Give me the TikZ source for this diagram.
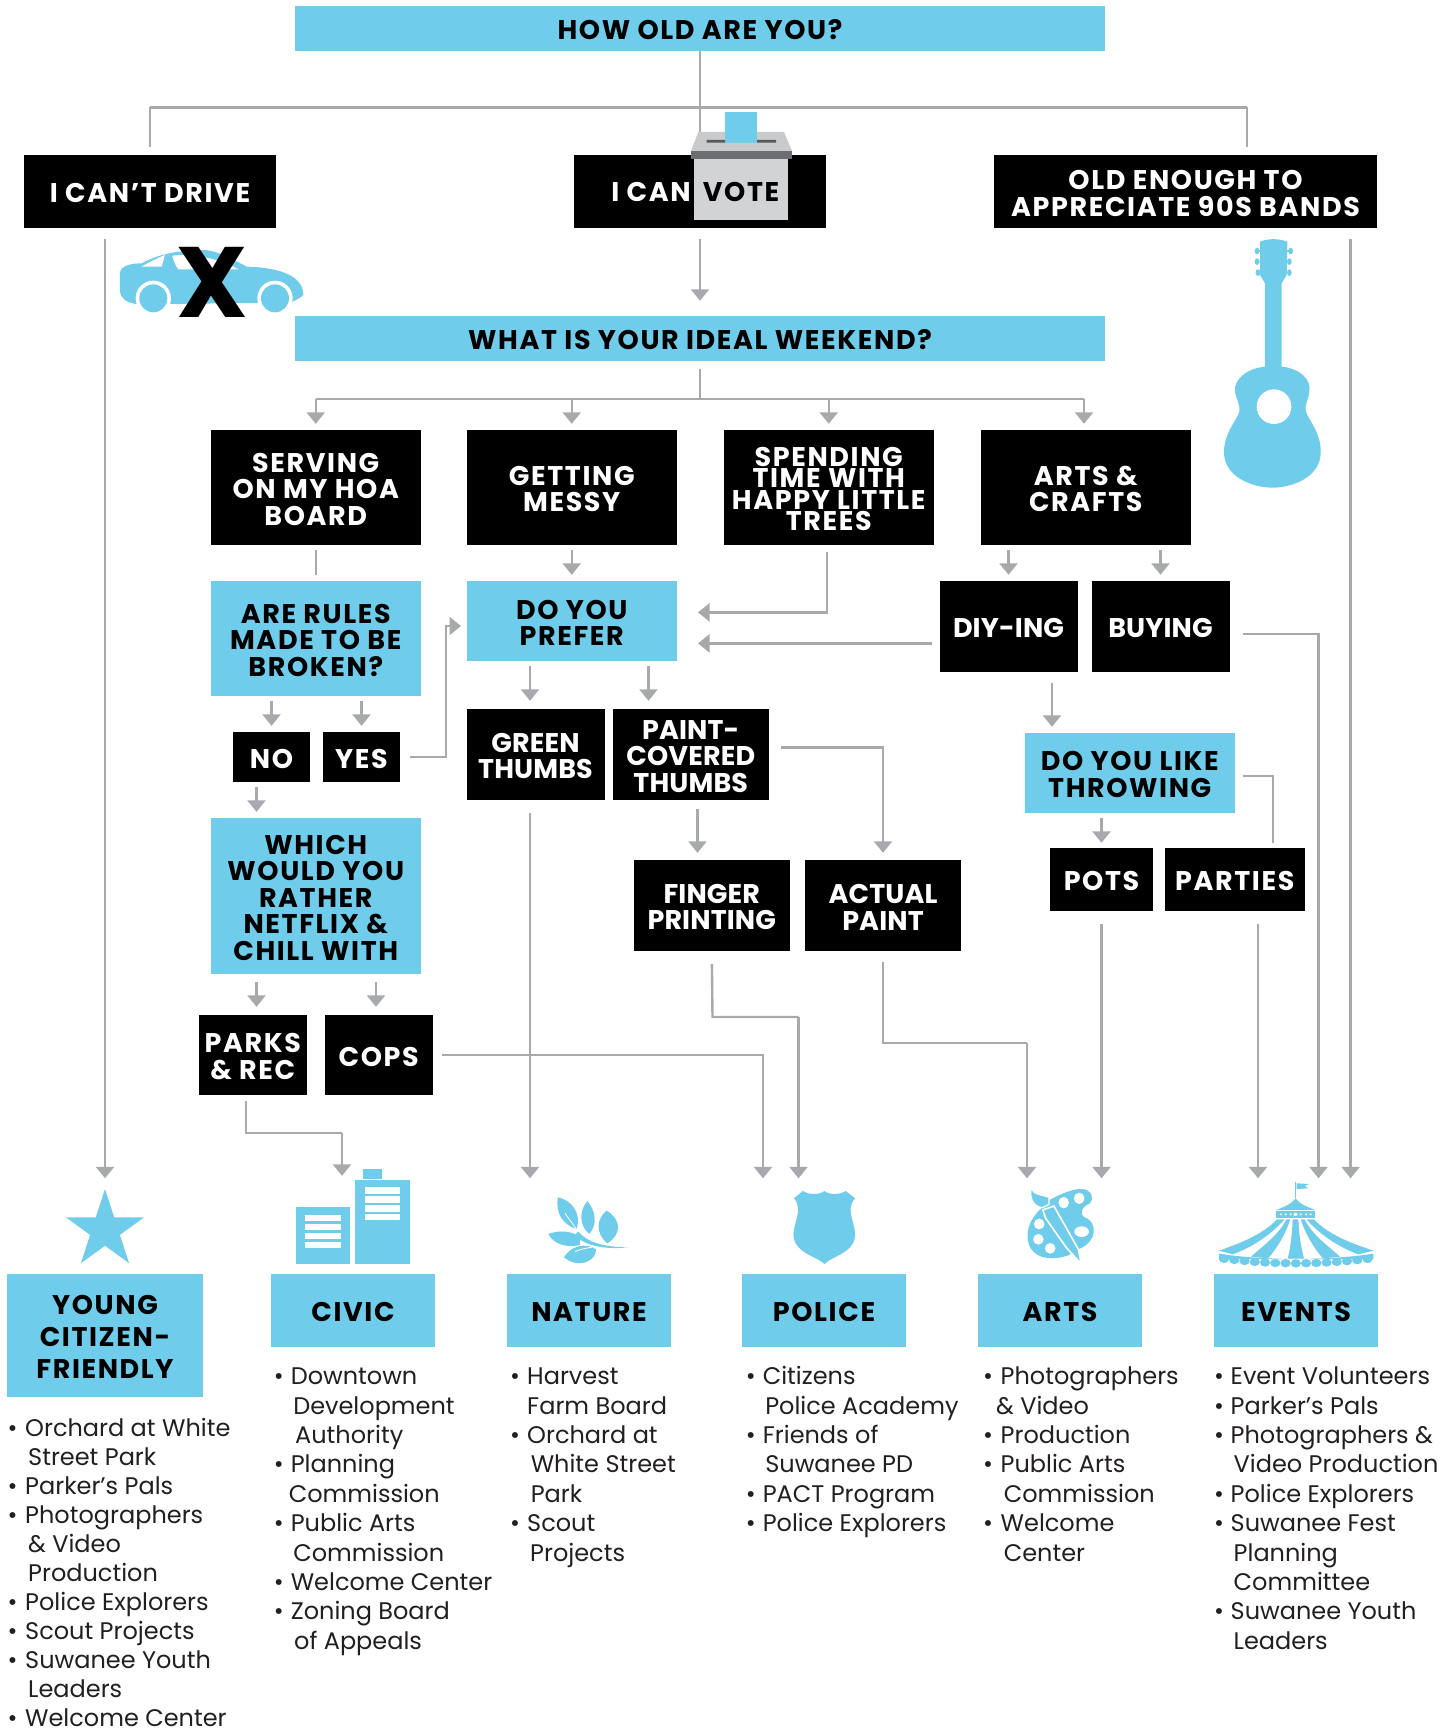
\documentclass[tikz,border=0pt]{standalone}
\usepackage{fontspec}
\setmainfont{Poppins}
\usetikzlibrary{arrows.meta,calc}
\definecolor{sky}{HTML}{6FCDEB}
\definecolor{wire}{HTML}{A7A9AC}
\definecolor{ink}{HTML}{231F20}
\definecolor{boxtop}{HTML}{C9CACC}
\definecolor{boxslot}{HTML}{58595B}
\definecolor{boxband}{HTML}{6D6E71}
\definecolor{boxbody}{HTML}{D1D3D4}
\newcommand{\hdfs}[1][26.5]{\bfseries\fontsize{27}{#1}\selectfont\addfontfeature{LetterSpace=6}}
\newcommand{\hdtight}{\bfseries\fontsize{27}{26.5}\selectfont\addfontfeature{LetterSpace=0.5}}
\newcommand{\bl}[1][17]{\makebox[#1pt][l]{•}}
\newcommand{\ct}[1]{\hspace*{#1pt}}
\newcommand{\bx}[7]{%
  \pgfmathsetmacro\bxw{#5-#3}\pgfmathsetmacro\bxh{#6-#4}%
  \pgfmathsetmacro\bxx{(#5+#3)/2}\pgfmathsetmacro\bxy{(#6+#4)/2}%
  \node[#1,minimum width=\bxw pt,minimum height=\bxh pt] (#2) at (\bxx,\bxy) {\rule{0pt}{22.5pt}#7};}
\tikzset{
  blk/.style={rectangle,fill=black,text=white,inner sep=0pt,align=center,font=\hdfs},
  blu/.style={rectangle,fill=sky,text=black,inner sep=0pt,align=center,font=\hdfs},
  conn/.style={draw=wire,line width=2.4pt},
  arr/.style={conn,-{Triangle[width=18pt,length=11.5pt]}},
  listing/.style={anchor=north west,inner sep=0pt,align=left,text=ink,font=\fontsize{24}{29.35}\selectfont},
  icon/.style={fill=sky,draw=none},
  hole/.style={fill=white,draw=none}
}
\begin{document}
\begin{tikzpicture}[x=1pt,y=-1pt]
\fill[white] (0,0) rectangle (1454,1731);
\useasboundingbox (0,0) rectangle (1454,1731);
% top
\bx{blu}{how}{295}{6}{1105}{51}{HOW OLD ARE YOU?}
\bx{blk}{drive}{24}{155}{276}{228}{I CAN’T DRIVE}
\bx{blk}{vote}{574}{155}{826}{228}{}
\bx{blk,font={\hdfs[27]}}{old}{994}{155}{1377}{228}{OLD ENOUGH TO\\APPRECIATE 90S BANDS}
\bx{blu}{what}{295}{316}{1105}{361}{WHAT IS YOUR IDEAL WEEKEND?}
% weekend
\bx{blk}{serving}{210.5}{430}{421}{545}{SERVING\\ON MY HOA\\BOARD}
\bx{blk}{messy}{466.5}{430}{677}{545}{GETTING\\MESSY}
\bx{blk,font={\hdfs[21.4]}}{trees}{723.5}{430}{934}{545}{SPENDING\\TIME WITH\\HAPPY LITTLE\\TREES}
\bx{blk}{crafts}{980.5}{430}{1191}{545}{ARTS \&\\CRAFTS}
\bx{blu}{rules}{210.5}{581}{421}{696}{ARE RULES\\MADE TO BE\\BROKEN?}
\bx{blu}{prefer}{466.5}{581}{677}{661}{DO YOU\\PREFER}
\bx{blk,font=\hdtight}{diy}{939.5}{581}{1077.5}{672}{DIY-ING}
\bx{blk,font=\hdtight}{buying}{1091.5}{581}{1229.5}{672}{BUYING}
\bx{blk}{no}{233}{732}{310}{782}{NO}
\bx{blk}{yes}{323}{732}{400}{782}{YES}
\bx{blk,font=\hdtight}{green}{466.5}{709}{604.5}{800}{GREEN\\THUMBS}
\bx{blk,font=\hdtight}{paint}{612.5}{709}{769}{800}{PAINT-\\COVERED\\THUMBS}
\bx{blu}{throw}{1025}{733}{1234.5}{813}{DO YOU LIKE\\THROWING}
\bx{blu}{which}{210.5}{818}{421}{974}{WHICH\\WOULD YOU\\RATHER\\NETFLIX \&\\CHILL WITH}
\bx{blk}{pots}{1050}{848}{1153}{911}{POTS}
\bx{blk}{parties}{1164.5}{848}{1305}{911}{PARTIES}
\bx{blk,font=\hdtight}{finger}{633.5}{860}{790}{951}{FINGER\\PRINTING}
\bx{blk,font=\hdtight}{actual}{805}{860}{961}{951}{ACTUAL\\PAINT}
\bx{blk}{parks}{198.5}{1015}{307}{1095}{PARKS\\\& REC}
\bx{blk}{cops}{324.5}{1015}{433}{1095}{COPS}
% categories
\bx{blu,font={\hdfs[32]}}{young}{7}{1274}{203}{1397}{YOUNG\\CITIZEN-\\FRIENDLY}
\bx{blu}{civic}{271}{1274}{435}{1347}{CIVIC}
\bx{blu}{nature}{507}{1274}{671}{1347}{NATURE}
\bx{blu}{police}{742}{1274}{906}{1347}{POLICE}
\bx{blu}{arts}{978}{1274}{1142}{1347}{ARTS}
\bx{blu}{events}{1214}{1274}{1378}{1347}{EVENTS}
% free connector ends
\coordinate (h1) at (700,107.5);
\coordinate (bR) at (1247,107.5);
\coordinate (ballottop) at (700,135);
\coordinate (h2) at (700,399);
\coordinate (crx) at (1084,399);
\coordinate (oldx) at (1350.6,228);
\coordinate (p1) at (698,612.4);
\coordinate (p2) at (698,643.4);
\coordinate (b1) at (1318.5,634);
\coordinate (y1) at (446,757);
\coordinate (y2) at (461,626);
\coordinate (pk0) at (246,1095);
\coordinate (pk1) at (246,1133);
\coordinate (pk2) at (342,1133);
\coordinate (cp1) at (763,1055);
\coordinate (pt1) at (883,747.5);
\coordinate (fg1) at (712.5,1017);
\coordinate (fg2) at (798.5,1017);
\coordinate (ac1) at (883,1043);
\coordinate (ac2) at (1027,1043);
\coordinate (th1) at (1273,776);
\coordinate (grx) at (530,800);
\coordinate (prx) at (648.5,661);
\coordinate (dyx) at (1052,672);
\coordinate (ptx) at (1101.5,911);
\coordinate (ppx) at (1258,911);
\coordinate (nox) at (256.5,782);
\coordinate (whx) at (256.5,974);
\coordinate (why) at (376,974);
\coordinate (pax) at (697.5,800);
% connectors
\draw[conn] (how.south) -- (ballottop);
\draw[conn] (drive.north |- h1) -- (bR);
\draw[conn,shorten >=8pt] (drive.north |- h1) -- (drive.north);
\draw[conn,shorten >=8pt] (bR) -- (bR |- old.north);
\draw[arr,shorten <=11pt,shorten >=15pt] (vote.south) -- (what.north);
\draw[arr,shorten <=11pt,shorten >=95.5pt] (drive.south -| young.north) -- (young.north);
\draw[arr,shorten <=11pt,shorten >=95.5pt] (oldx) -- (events.north -| oldx);
\draw[conn,shorten <=8pt] (what.south) -- (h2);
\draw[conn] (serving.north |- h2) -- (crx);
\foreach \n in {serving,messy,trees}
  \draw[arr,shorten >=6pt] (\n.north |- h2) -- (\n.north);
\draw[arr,shorten >=6pt] (crx) -- (crx |- crafts.north);
\draw[conn,shorten <=5pt,shorten >=6pt] (serving.south) -- (rules.north);
\draw[arr,shorten <=5pt,shorten >=6pt] (messy.south) -- (prefer.north);
\draw[arr,shorten <=7pt] ([xshift=-2pt]trees.south) |- (p1);
\draw[arr,shorten <=7pt] (diy.west |- p2) -- (p2);
\draw[arr,shorten <=5pt,shorten >=6pt] (crafts.south -| diy.north) -- (diy.north);
\draw[arr,shorten <=5pt,shorten >=6pt] (crafts.south -| buying.north) -- (buying.north);
\draw[arr,shorten <=13.5pt,shorten >=95.5pt] (buying.east |- b1) -- (b1) -- (events.north -| b1);
\draw[arr,shorten <=5pt,shorten >=6pt] (rules.south -| no.north) -- (no.north);
\draw[arr,shorten <=5pt,shorten >=6pt] (rules.south -| yes.north) -- (yes.north);
\draw[arr,shorten <=10pt] (yes.east) -- (y1) -- (y1 |- y2) -- (y2);
\draw[arr,shorten <=5pt,shorten >=6pt] (nox) -- (nox |- which.north);
\draw[arr,shorten <=8pt,shorten >=8pt] (whx) -- (whx |- parks.north);
\draw[arr,shorten <=8pt,shorten >=8pt] (why) -- (why |- cops.north);
\draw[conn,shorten <=6pt] (pk0) -- (pk1) -- (pk2);
\draw[arr,shorten >=98pt] (pk2) -- (pk2 |- civic.north);
\draw[arr,shorten <=9pt,shorten >=95.5pt] (cops.east |- cp1) -- (cp1) -- (cp1 |- police.north);
\draw[arr,shorten <=5pt,shorten >=8pt] (grx |- prefer.south) -- (grx |- green.north);
\draw[arr,shorten <=5pt,shorten >=8pt] (prx) -- (prx |- paint.north);
\draw[arr,shorten <=13pt,shorten >=95.5pt] (grx) -- (grx |- nature.north);
\draw[arr,shorten <=12pt,shorten >=7pt] (paint.east |- pt1) -- (pt1) -- (pt1 |- actual.north);
\draw[arr,shorten <=9pt,shorten >=7pt] (pax) -- (pax |- finger.north);
\draw[conn,shorten <=13pt] (finger.south) -- (fg1) -- (fg2);
\draw[arr,shorten >=95.5pt] (fg2) -- (fg2 |- police.north);
\draw[conn,shorten <=11pt] (actual.south) -- (ac1) -- (ac2);
\draw[arr,shorten >=95.5pt] (ac2) -- (ac2 |- arts.north);
\draw[arr,shorten <=11pt,shorten >=6pt] (dyx) -- (dyx |- throw.north);
\draw[conn,shorten <=8pt,shorten >=5pt] (throw.east |- th1) -- (th1) -- (th1 |- parties.north);
\draw[arr,shorten <=5pt,shorten >=5pt] (throw.south -| pots.north) -- (pots.north);
\draw[arr,shorten <=13pt,shorten >=95.5pt] (ptx) -- (ptx |- arts.north);
\draw[arr,shorten <=13pt,shorten >=95.5pt] (ppx) -- (ppx |- events.north);
% voting box
\fill[sky] (725,112) rectangle (757,143);
\fill[boxtop] (698.3,132) -- (725,132) -- (725,143) -- (757,143) -- (757,132) -- (784,132) -- (792,151) -- (691,151) -- cycle;
\fill[boxslot] (706.7,140) rectangle (725,142.7) (757,140) rectangle (776,142.7);
\fill[boxband] (691,151) rectangle (792,159);
\fill[boxbody] (694,159) rectangle (788,220);
\node[font=\hdfs,text=white,inner sep=0pt] (ican) at (651,192) {I CAN};
\node[font=\hdfs,text=black,inner sep=0pt] (votew) at (741,192) {VOTE};
% car
\begin{scope}[shift={(100,230)},x=.3333pt,y=-.3333pt]
\fill[icon] (60,130) .. controls (60,105) and (100,100) .. (125,100) .. controls (175,72) and (240,60) .. (310,60) .. controls (360,62) and (410,95) .. (440,110) .. controls (520,112) and (610,130) .. (610,195) .. controls (600,205) and (585,212) .. (570,218) -- (190,222) -- (108,222) .. controls (80,218) and (60,205) .. (60,180) -- cycle;
\fill[hole] (125,110) .. controls (145,98) and (170,85) .. (195,75) -- (185,110) -- cycle;
\fill[hole] (217,77) .. controls (270,70) and (360,85) .. (415,118) -- (235,118) .. controls (225,105) and (220,90) .. (217,77) -- cycle;
\fill[hole] (160,205) circle (53) (525,205) circle (53);
\fill[icon] (160,205) circle (42) (525,205) circle (42);
\end{scope}
\node[font=\bfseries\fontsize{100}{100}\selectfont,text=black,inner sep=0pt] (xmark) at (212,282) {X};
% guitar
\begin{scope}[shift={(1200,220)},x=.3333pt,y=-.3333pt]
\fill[icon] (180,65) .. controls (205,55) and (235,55) .. (262,65) -- (260,165) -- (245,190) -- (245,440) .. controls (300,445) and (335,480) .. (328,515) .. controls (325,540) and (312,560) .. (318,575) .. controls (325,600) and (365,640) .. (362,700) .. controls (360,770) and (280,803) .. (217,803) .. controls (155,803) and (75,770) .. (72,700) .. controls (70,640) and (112,600) .. (118,575) .. controls (122,560) and (110,540) .. (105,515) .. controls (100,480) and (140,445) .. (195,440) -- (195,190) -- (180,165) -- cycle;
\fill[hole] (222,560) circle (52);
\foreach \a/\b in {171/93,171/125,174/158,272/93,268/125,268/158}
  \fill[icon] (\a,\b) ellipse [x radius=7,y radius=10];
\draw[sky,line width=1.3pt] (171,93) -- (272,93) (171,125) -- (268,125) (174,158) -- (268,158);
\end{scope}
% star
\fill[icon] (105,1189) -- (114.2,1217.3) -- (144,1217.3) -- (119.9,1234.9) -- (129.1,1263.2) -- (105,1245.7) -- (80.9,1263.2) -- (90.1,1234.9) -- (66,1217.3) -- (95.8,1217.3) -- cycle;
% buildings and leaves
\begin{scope}[shift={(270,1160)},x=.3333pt,y=-.3333pt]
\fill[icon] (78,142) rectangle (240,313);
\fill[icon] (256,60) rectangle (419,313);
\fill[icon] (279,27) rectangle (336,57);
\foreach \t in {165,191,218,245} \fill[hole] (105,\t) rectangle (213,\t+19);
\foreach \t in {82,109,136,162} \fill[hole] (284,\t) rectangle (391,\t+19);
\fill[icon] (864,112) .. controls (905,120) and (935,160) .. (920,207) .. controls (880,195) and (855,160) .. (864,112) -- cycle;
\fill[icon] (952,123) .. controls (975,150) and (985,190) .. (958,222) .. controls (930,200) and (925,155) .. (952,123) -- cycle;
\fill[icon] (1010,152) .. controls (1050,175) and (1060,220) .. (1012,250) .. controls (975,220) and (980,175) .. (1010,152) -- cycle;
\fill[icon] (835,222) .. controls (870,208) and (915,215) .. (930,232) -- (930,255) .. controls (885,265) and (850,250) .. (835,222) -- cycle;
\fill[icon] (882,292) .. controls (900,260) and (945,245) .. (978,268) .. controls (980,300) and (930,330) .. (882,292) -- cycle;
\fill[icon] (925,215) .. controls (950,245) and (1000,262) .. (1075,262) .. controls (1000,270) and (940,255) .. (915,225) -- cycle;
\draw[white,line width=.8pt] (885,160) -- (925,215) (915,275) .. controls (930,268) and (945,265) .. (965,262);
\end{scope}
% shield, palette, tent
\begin{scope}[shift={(760,1160)},x=.40816pt,y=-.3333pt]
\fill[icon] (105,93) .. controls (120,105) and (145,105) .. (158,93) .. controls (170,105) and (195,105) .. (210,93) -- (233,115) .. controls (205,150) and (240,200) .. (232,235) .. controls (225,280) and (175,290) .. (158,312) .. controls (140,290) and (90,280) .. (83,235) .. controls (75,200) and (110,150) .. (83,115) -- cycle;
% palette
\fill[icon] (712,118) .. controls (740,100) and (770,85) .. (790,87) .. controls (812,90) and (820,115) .. (808,130) .. controls (790,140) and (780,160) .. (795,172) .. controls (815,180) and (822,205) .. (815,230) .. controls (808,250) and (795,260) .. (780,268) -- (757,285) .. controls (720,302) and (680,298) .. (663,265) .. controls (645,225) and (660,175) .. (690,145) -- cycle;
\fill[hole] (744,128) ellipse [x radius=13,y radius=17];
\fill[hole] (782,115) ellipse [x radius=13,y radius=17];
\fill[hole] (684,192) ellipse [x radius=13,y radius=16];
\fill[hole] (682,238) ellipse [x radius=13,y radius=16];
\fill[hole] (711,265) ellipse [x radius=13,y radius=16];
\fill[hole] (788,215) ellipse [x radius=18,y radius=16];
\draw[white,line width=1.6pt,fill=sky] (693,150) -- (720,138) -- (780,268) -- (787,312) -- (750,262) -- (700,175) -- cycle;
\draw[white,line width=1.2pt,fill=sky] (664,85) .. controls (670,105) and (695,105) .. (708,112) -- (708,133) -- (692,143) .. controls (670,140) and (660,115) .. (664,85) -- cycle;
% tent
\draw[sky,line width=1.3pt] (1312,65) -- (1312,115);
\fill[icon] (1315,70) -- (1345,72) -- (1335,78) -- (1343,85) -- (1315,87) -- cycle;
\fill[icon] (1312,115) .. controls (1300,135) and (1280,142) .. (1265,150) -- (1360,150) .. controls (1345,142) and (1325,135) .. (1312,115) -- cycle;
\fill[icon] (1265,152) rectangle (1360,175);
\foreach \d in {1276,1288,1300,1325,1338,1349} \fill[hole] (\d,163) circle (3);
\fill[hole] (1312,163) circle (5);
\fill[icon] (1267,178) .. controls (1230,225) and (1175,250) .. (1125,272) -- (1158,283) .. controls (1210,260) and (1255,220) .. (1285,178) -- cycle;
\fill[icon] (1290,178) .. controls (1270,225) and (1235,255) .. (1203,290) -- (1245,295) .. controls (1270,260) and (1290,215) .. (1299,178) -- cycle;
\fill[icon] (1305,178) -- (1319,178) .. controls (1320,220) and (1325,260) .. (1333,296) -- (1293,296) .. controls (1300,260) and (1304,220) .. (1305,178) -- cycle;
\fill[icon] (1334,178) .. controls (1354,225) and (1389,255) .. (1421,290) -- (1379,295) .. controls (1354,260) and (1334,215) .. (1325,178) -- cycle;
\fill[icon] (1357,178) .. controls (1394,225) and (1449,250) .. (1503,272) -- (1466,283) .. controls (1414,260) and (1369,220) .. (1339,178) -- cycle;
\fill[icon] (1125,281) .. controls (1230,302) and (1395,302) .. (1503,281) -- (1503,297) -- (1125,297) -- cycle;
\foreach \i in {0,...,14} {
  \pgfmathsetmacro\cx{1137+\i*25.1}
  \pgfmathsetmacro\cy{296+14*(1-((\cx-1314)/180)^2)}
  \fill[icon] (\cx,\cy) circle (12.5);
}
\end{scope}
% lists
\node[listing,font=\fontsize{24}{29}\selectfont] (ly) at (7.5,1416) {\rule{0pt}{20pt}\bl[17.5]Orchard at White\\\ct{20.5}Street Park\\\bl[17.5]Parker’s Pals\\\bl[17.5]Photographers\\\ct{20.5}\& Video\\\ct{20.5}Production\\\bl[17.5]Police Explorers\\\bl[17.5]Scout Projects\\\bl[17.5]Suwanee Youth\\\ct{20.5}Leaders\\\bl[17.5]Welcome Center};
\node[listing] (lc) at (273.6,1364.7) {\rule{0pt}{20pt}\bl Downtown\\\ct{19.5}Development\\\ct{21.4}Authority\\\bl Planning\\\ct{15}Commission\\\bl Public Arts\\\ct{19.5}Commission\\\bl Welcome Center\\\bl Zoning Board\\\ct{20.4}of Appeals};
\node[listing] (ln) at (510,1364.7) {\rule{0pt}{20pt}\bl Harvest\\\ct{17}Farm Board\\\bl Orchard at\\\ct{20.6}White Street\\\ct{20.6}Park\\\bl Scout\\\ct{20}Projects};
\node[listing] (lp) at (745.6,1364.7) {\rule{0pt}{20pt}\bl Citizens\\\ct{19.5}Police Academy\\\bl Friends of\\\ct{19.5}Suwanee PD\\\bl PACT Program\\\bl Police Explorers};
\node[listing] (la) at (983,1364.7) {\rule{0pt}{20pt}\bl[17.5]Photographers\\\ct{13}\& Video\\\bl[17.5]Production\\\bl[17.5]Public Arts\\\ct{20.6}Commission\\\bl[17.5]Welcome\\\ct{20.6}Center};
\node[listing] (le) at (1214,1364.7) {\rule{0pt}{20pt}\bl[16.5]Event Volunteers\\\bl[16.5]Parker’s Pals\\\bl[16.5]Photographers \&\\\ct{19.5}Video Production\\\bl[16.5]Police Explorers\\\bl[16.5]Suwanee Fest\\\ct{19.5}Planning\\\ct{19.5}Committee\\\bl[16.5]Suwanee Youth\\\ct{19.5}Leaders};
\end{tikzpicture}
\end{document}
